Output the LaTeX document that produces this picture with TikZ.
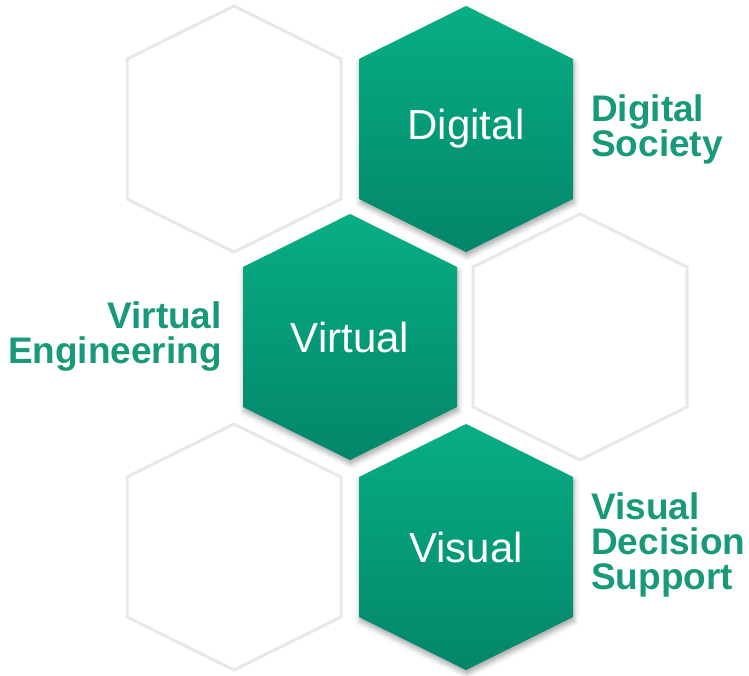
\documentclass[tikz,border=0pt]{standalone}
\usepackage{fontspec}
\setmainfont{Liberation Sans}
\usetikzlibrary{shadows.blur}
\definecolor{hexTop}{HTML}{07AE84}
\definecolor{hexBot}{HTML}{03866A}
\definecolor{labelGreen}{HTML}{17997A}
\definecolor{rimGray}{HTML}{E8E8E8}
% outline of one cell, relative to its centre
\def\cellpath{(0,-123) -- (107,-70) -- (107,70) -- (0,123) -- (-107,70) -- (-107,-70) -- cycle}
\tikzset{
  emptycell/.style={draw=rimGray, line width=3pt, fill=white, line join=miter},
  greencell/.style={top color=hexTop, bottom color=hexBot, draw=none,
    blur shadow={shadow xshift=1pt, shadow yshift=-4pt, shadow blur radius=5pt, shadow opacity=35}},
  celltext/.style={text=white, font=\fontsize{42}{46}\selectfont},
  labeltext/.style={text=labelGreen, font=\bfseries\fontsize{37}{35}\selectfont, inner sep=0pt}
}
\begin{document}
\begin{tikzpicture}[x=1pt, y=-1pt]
  \useasboundingbox (0,0) rectangle (749,675);
  % empty cells
  \path[emptycell, shift={(234,129)}] \cellpath;
  \path[emptycell, shift={(580,337)}] \cellpath;
  \path[emptycell, shift={(234,547)}] \cellpath;
  % highlighted cells
  \path[greencell, shift={(466,129)}] \cellpath;
  \path[greencell, shift={(350,337)}] \cellpath;
  \path[greencell, shift={(466,547)}] \cellpath;
  % cell captions
  \node[celltext] (digital) at (466,129) {Digital};
  \node[celltext] (virtual) at (350,337) {Virtual};
  \node[celltext] (visual) at (466,547) {Visual};
  % side labels
  \node[labeltext, anchor=west, align=left] (digitalsoc) at (591,129) {Digital\\Society};
  \node[labeltext, anchor=east, align=right] (virtualeng) at (222,337) {Virtual\\Engineering};
  \node[labeltext, anchor=west, align=left] (visualdec) at (591,545) {Visual\\Decision\\Support};
\end{tikzpicture}
\end{document}
